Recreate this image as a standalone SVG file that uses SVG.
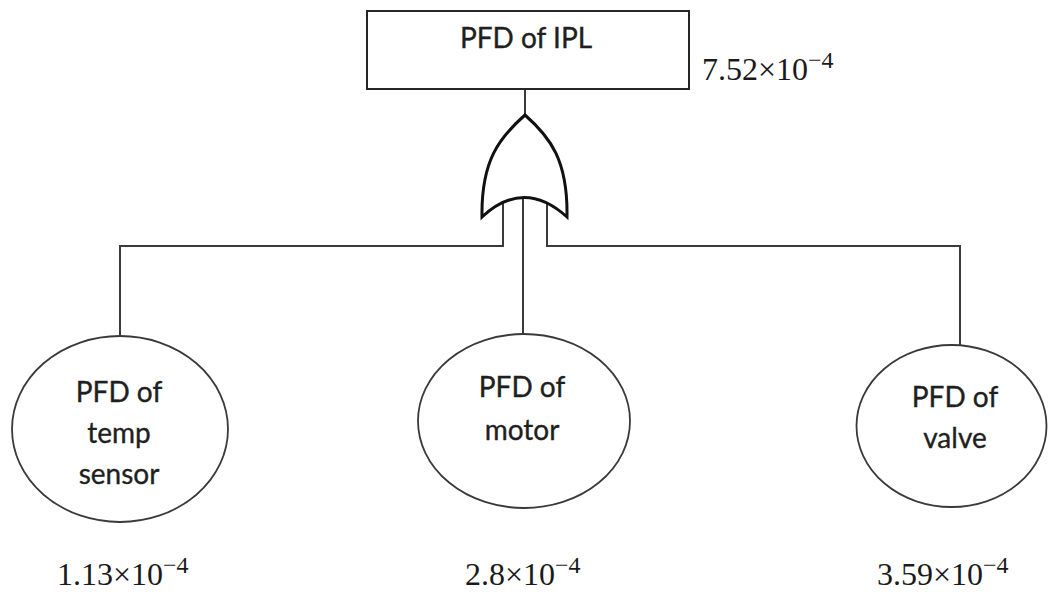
<svg xmlns="http://www.w3.org/2000/svg" width="1048" height="592" viewBox="0 0 1048 592">
  <style>
    .box { fill: #ffffff; stroke: #262626; stroke-width: 2; }
    .event { fill: #ffffff; stroke: #3a3a3a; stroke-width: 1.8; }
    .gate { fill: #ffffff; stroke: #111111; stroke-width: 3; stroke-linejoin: miter; }
    .wire { fill: none; stroke: #3a3a3a; stroke-width: 2; }
    .label { font-family: Lato, "Noto Sans", sans-serif; font-size: 28px; fill: #1f1f1f; stroke: #1f1f1f; stroke-width: 0.35; text-anchor: middle; }
    .val { font-family: "Liberation Serif", "Times New Roman", serif; font-size: 32px; fill: #1a1a1a; }
    .sup { font-size: 24px; }
  </style>

  <rect width="1048" height="592" fill="#ffffff"/>

  <!-- connectors: top event to OR gate, gate inputs to basic events -->
  <g id="connectors">
    <line class="wire" x1="525" y1="90" x2="525" y2="116" stroke="#777777"/>
    <polyline class="wire" points="503,202 503,246 120,246 120,336"/>
    <line class="wire" x1="523" y1="198" x2="523" y2="335"/>
    <polyline class="wire" points="547,202 547,246 960,246 960,345"/>
  </g>

  <!-- top event -->
  <g id="top-event">
    <rect class="box" x="367" y="11" width="322" height="78"/>
    <text class="label" x="526" y="48">PFD of IPL</text>
    <text class="val" x="702" y="80">7.52×10<tspan class="sup" dy="-12">−4</tspan></text>
  </g>

  <!-- OR gate -->
  <g id="or-gate">
    <path class="gate" d="M482,217 C481,160 500,137 525,115 C550,137 568,160 567,217 Q524,178 482,217 Z"/>
  </g>

  <!-- basic events -->
  <g id="temp-sensor">
    <ellipse class="event" cx="120" cy="429" rx="108" ry="93"/>
    <text class="label" x="119" y="402">PFD of</text>
    <text class="label" x="119" y="443">temp</text>
    <text class="label" x="119" y="484">sensor</text>
    <text class="val" x="57" y="585">1.13×10<tspan class="sup" dy="-12">−4</tspan></text>
  </g>

  <g id="motor">
    <ellipse class="event" cx="524" cy="421" rx="106" ry="87"/>
    <text class="label" x="522" y="397">PFD of</text>
    <text class="label" x="522" y="440">motor</text>
    <text class="val" x="465" y="585">2.8×10<tspan class="sup" dy="-12">−4</tspan></text>
  </g>

  <g id="valve">
    <ellipse class="event" cx="951.5" cy="426" rx="95" ry="81"/>
    <text class="label" x="955" y="407">PFD of</text>
    <text class="label" x="955" y="448">valve</text>
    <text class="val" x="877" y="585">3.59×10<tspan class="sup" dy="-12">−4</tspan></text>
  </g>
</svg>
